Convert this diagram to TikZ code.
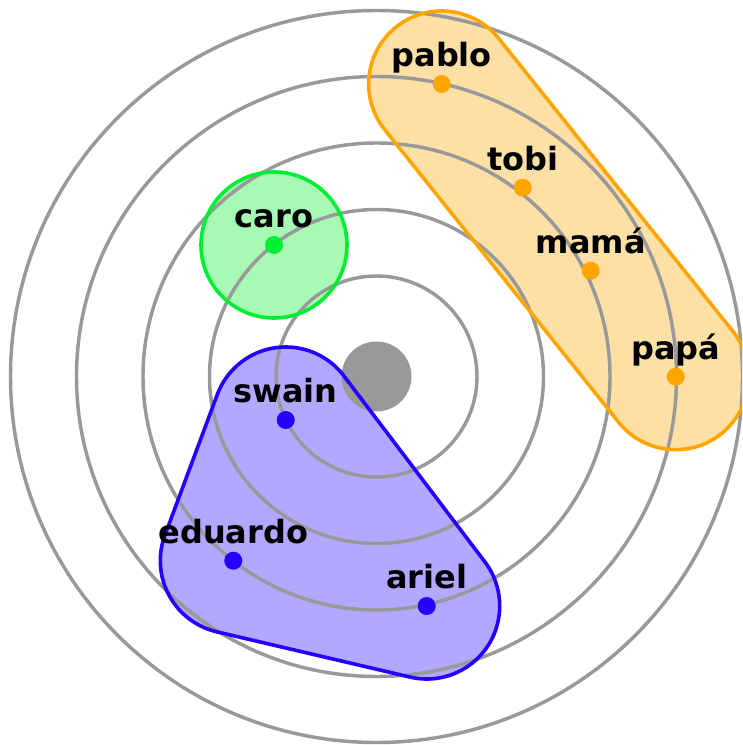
\documentclass[tikz,border=0pt]{standalone}
\usepackage{fontspec}
\setmainfont{DejaVu Sans}
\usetikzlibrary{calc}

\definecolor{ringgray}{RGB}{153,153,153}
\definecolor{famline}{RGB}{255,165,0}
\definecolor{famfill}{RGB}{253,224,166}
\definecolor{schoolline}{RGB}{36,0,255}
\definecolor{schoolfill}{RGB}{178,168,255}
\definecolor{friendline}{RGB}{0,238,50}
\definecolor{friendfill}{RGB}{166,250,180}

% group outlines: each is the hull of discs of radius 73 around its members
\newcommand\famhull{($(pablo)+(141.36:73)$) arc[start angle=141.36,end angle=321.36,radius=73]
  -- ($(papa)+(-38.64:73)$) arc[start angle=-38.64,end angle=141.36,radius=73] -- cycle}
\newcommand\schoolhull{($(swain)+(-37.16:73)$) arc[start angle=-37.16,end angle=-159.57,radius=73]
  -- ($(eduardo)+(200.43:73)$) arc[start angle=200.43,end angle=103.19,radius=73]
  -- ($(ariel)+(103.19:73)$) arc[start angle=103.19,end angle=-37.16,radius=73] -- cycle}
\newcommand\friendhull{(caro) circle[radius=73]}

\begin{document}
\begin{tikzpicture}[x=0.75pt,y=-0.75pt,
  ring/.style={draw=ringgray,line width=2.6pt},
  hub/.style={fill=ringgray},
  hullline/.style={draw=#1,line width=2.7pt,line join=round},
  member/.style={circle,fill=#1,inner sep=0pt,minimum size=13.5pt},
  tag/.style={anchor=base,inner sep=0pt,yshift=13pt,text=black,
    font=\fontsize{24}{29}\selectfont\bfseries},
]
\clip (0,0) rectangle (742,745);

\coordinate (c) at (376.5,376.5);
\coordinate (pablo)   at (441.7,84);
\coordinate (tobi)    at (522.7,187.7);
\coordinate (mama)    at (590.7,270.7);
\coordinate (papa)    at (675.7,376.7);
\coordinate (caro)    at (274,245);
\coordinate (swain)   at (285.7,420);
\coordinate (eduardo) at (233.3,560.7);
\coordinate (ariel)   at (426.7,606);

% group areas
\fill[famfill] \famhull;
\fill[friendfill] \friendhull;
\fill[schoolfill] \schoolhull;

% distance rings
\foreach \r in {100.5,167,233.5,300,366}
  \draw[ring] (c) circle[radius=\r];
\fill[hub] (c) circle[radius=35];

% group borders
\draw[hullline=famline] \famhull;
\draw[hullline=friendline] \friendhull;
\draw[hullline=schoolline] \schoolhull;

% people
\node[member=famline] (pablo-dot) at (pablo) {};
\node[member=famline] (tobi-dot) at (tobi) {};
\node[member=famline] (mama-dot) at (mama) {};
\node[member=famline] (papa-dot) at (papa) {};
\node[member=friendline] (caro-dot) at (caro) {};
\node[member=schoolline] (swain-dot) at (swain) {};
\node[member=schoolline] (eduardo-dot) at (eduardo) {};
\node[member=schoolline] (ariel-dot) at (ariel) {};

\node[tag] (pablo-tag) at (pablo) {pablo};
\node[tag] (tobi-tag) at (tobi) {tobi};
\node[tag] (mama-tag) at (mama) {mamá};
\node[tag] (papa-tag) at (papa) {papá};
\node[tag] (caro-tag) at (caro) {caro};
\node[tag] (swain-tag) at (swain) {swain};
\node[tag] (eduardo-tag) at (eduardo) {eduardo};
\node[tag] (ariel-tag) at (ariel) {ariel};
\end{tikzpicture}
\end{document}
